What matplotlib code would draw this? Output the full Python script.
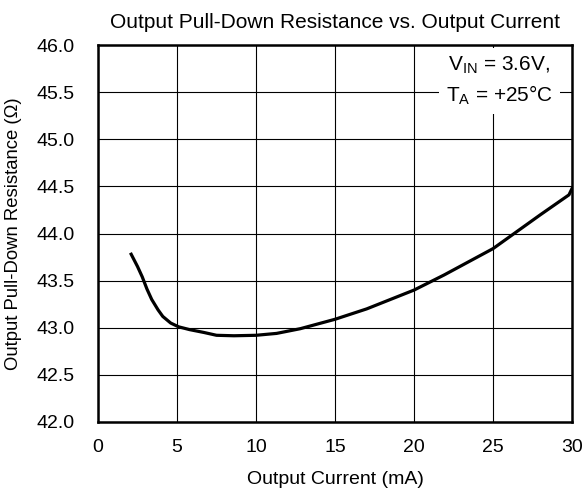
import matplotlib
matplotlib.use("Agg")
import matplotlib.pyplot as plt

plt.rcParams['font.family'] = ['Liberation Sans', 'DejaVu Sans']

# 读取自图中的曲线数据
current_ma = [2.1, 2.5, 2.8, 3.1, 3.4, 3.8, 4.1, 4.6, 5.1, 5.8, 6.7, 7.5, 8.6, 10.0, 11.3, 12.8,
              15.0, 17.0, 20.0, 21.9, 25.0, 26.5, 28.0, 29.2, 29.8, 30.0]
resistance = [43.78, 43.65, 43.54, 43.41, 43.30, 43.19, 43.12, 43.05, 43.01, 42.98, 42.95, 42.92, 42.915, 42.92,
              42.94, 42.99, 43.09, 43.20, 43.40, 43.56, 43.84, 44.02, 44.20, 44.34, 44.41, 44.48]

x_ticks = [0, 5, 10, 15, 20, 25, 30]
y_ticks = [42.0, 42.5, 43.0, 43.5, 44.0, 44.5, 45.0, 45.5, 46.0]

fig = plt.figure(figsize=(5.85, 5.0), dpi=100)
ax = fig.add_axes([0.1675, 0.156, 0.8105, 0.754])

ax.plot(current_ma, resistance, color='black', linewidth=2.3, zorder=3)

ax.set_xlim(0, 30)
ax.set_ylim(42.0, 46.0)
ax.set_xticks(x_ticks)
ax.set_yticks(y_ticks)
ax.set_yticklabels(["%.1f" % v for v in y_ticks])
ax.tick_params(length=0, labelsize=14)
ax.tick_params(axis='y', pad=17)
ax.tick_params(axis='x', pad=12)
ax.grid(True, color='black', linewidth=0.8)
for s in ax.spines.values():
    s.set_linewidth(1.8)

ax.set_xlabel("Output Current (mA)", fontsize=14, labelpad=11)
ax.set_ylabel("Output Pull-Down Resistance (\u03a9)", fontsize=13.3, labelpad=10)
ax.set_title("Output Pull-Down Resistance vs. Output Current", fontsize=15, pad=12)

ax.text(0.846, 0.905, "V$_{\\mathregular{IN}}$ = 3.6V,\nT$_{\\mathregular{A}}$ = +25\u00b0C",
        transform=ax.transAxes, ha='center', va='center', fontsize=15, linespacing=1.4,
        bbox=dict(facecolor='white', edgecolor='none', pad=5), zorder=4)

fig.savefig("out.png", dpi=100)
